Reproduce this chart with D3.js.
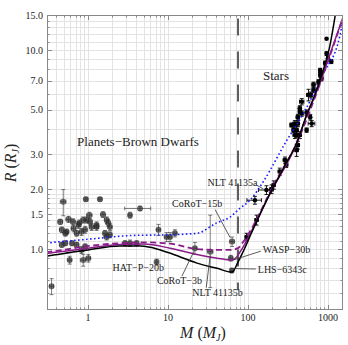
<!DOCTYPE html>
<html>
<head>
<meta charset="utf-8">
<script src="https://cdn.jsdelivr.net/npm/d3@7/dist/d3.min.js"></script>
<style>
  body { margin: 0; background: #fff; }
  text { font-family: "Liberation Serif", "Times New Roman", serif; fill: #222; }
</style>
</head>
<body>
<svg id="chart" width="348" height="345"></svg>
<script>
// axis ticks
var xMajor = [1, 10, 100, 1000];
var xMinor = [0.4, 0.5, 0.6, 0.7, 0.8, 0.9, 2, 3, 4, 5, 6, 7, 8, 9,
  20, 30, 40, 50, 60, 70, 80, 90, 200, 300, 400, 500, 600, 700, 800, 900];
var yMajor = [1.0, 1.5, 2.0, 3.0, 5.0, 7.0, 10.0, 15.0];
var yMinor = [0.5, 0.6, 0.7, 0.8, 0.9, 1.1, 1.2, 1.3, 1.4, 1.6, 1.7, 1.8, 1.9,
  2.5, 4, 6, 8, 9, 11, 12, 13, 14];

// models: [mass (M_J), radius (R_J)]
var modelBlack = [[0.3, 0.92], [0.37, 0.933], [0.6, 0.96], [1, 0.99], [2.5, 1.035], [4.5, 1.035],
  [6, 1.02], [10, 0.96], [23, 0.85], [41, 0.8], [63, 0.766], [75, 0.86], [90, 1.0], [110, 1.2],
  [188, 1.9], [300, 2.7], [405, 3.4], [540, 4.7], [700, 6.1], [870, 7.9], [1050, 10.4], [1240, 15.2]];
var modelPurple = [[0.3, 0.95], [0.37, 0.96], [1, 1.01], [2.5, 1.055], [5, 1.06], [10.6, 1.01],
  [23, 0.94], [41, 0.9], [62, 0.88], [72, 0.91], [80, 0.97], [90, 1.05], [105, 1.18], [188, 1.9],
  [405, 3.4], [540, 4.7], [700, 6.0], [870, 7.6], [1200, 11.0], [1560, 14.8]];
var modelPurpleDash = [[0.3, 0.965], [0.37, 0.975], [1, 1.035], [2.5, 1.07], [5, 1.08], [10.6, 1.065],
  [23, 1.0], [41, 0.99], [60, 0.99], [75, 1.01], [86, 1.08], [105, 1.22], [150, 1.6], [188, 1.93],
  [405, 3.4], [870, 7.5], [1560, 14.8]];
var modelBlue = [[0.3, 1.07], [0.37, 1.08], [1, 1.12], [2.5, 1.16], [3.5, 1.17], [6, 1.175],
  [10.6, 1.18], [23, 1.2], [40, 1.35], [60, 1.45], [79, 1.6], [106, 1.76], [155, 2.18], [303, 3.5],
  [493, 4.8], [870, 7.6], [1400, 11.7], [1560, 14.5]];

// hydrogen burning limit
var hLimit = 75;

// planets & brown dwarfs: [M, R, dM, dR up, dR down]
var planets = [
  [0.49, 1.73, 0.04, 0.26], [0.94, 1.78, 0.05, 0.04], [1.41, 1.78, 0.08, 0.04], [1.04, 1.48, 0.08, 0.05],
  [1.54, 1.49, 0.1, 0.05], [0.57, 1.41, 0.04, 0.05], [0.45, 1.37, 0.03, 0.04], [0.87, 1.40, 0.05, 0.05],
  [0.78, 1.35, 0.04, 0.05], [1.06, 1.37, 0.06, 0.05], [1.28, 1.29, 0.07, 0.05], [1.71, 1.40, 0.1, 0.05],
  [1.88, 1.29, 0.1, 0.05], [0.47, 1.25, 0.03, 0.04], [0.66, 1.27, 0.04, 0.05], [0.54, 1.22, 0.03, 0.04],
  [0.52, 1.20, 0.03, 0.04], [0.65, 1.37, 0.04, 0.05], [0.76, 1.32, 0.04, 0.05], [0.83, 1.22, 0.05, 0.05],
  [0.72, 1.20, 0.04, 0.04], [0.96, 1.40, 0.05, 0.05], [1.11, 1.29, 0.06, 0.05], [0.92, 1.25, 0.05, 0.05],
  [1.28, 1.32, 0.07, 0.05], [1.79, 1.35, 0.1, 0.05], [1.88, 1.18, 0.1, 0.04], [1.63, 1.20, 0.09, 0.04],
  [0.52, 1.07, 0.03, 0.03], [0.63, 1.07, 0.03, 0.03], [0.72, 1.05, 0.04, 0.03], [0.92, 1.03, 0.05, 0.03],
  [0.83, 0.99, 0.05, 0.04], [0.59, 0.88, 0.03, 0.04], [0.87, 0.88, 0.07, 0.06], [1.01, 0.90, 0.06, 0.04],
  [3.35, 1.48, 0.15, 0.05], [3.35, 1.07, 0.15, 0.04], [0.35, 0.65, 0.02, 0.06], [0.47, 1.05, 0.03, 0.03],
  [1.71, 1.15, 0.1, 0.04], [4.47, 1.60, 1.6, 0.04], [2.9, 1.07, 0.15, 0.03], [4.06, 1.07, 0.2, 0.03],
  [7.6, 1.25, 0.4, 0.08], [9.6, 1.15, 0.5, 0.06], [10.6, 1.15, 0.5, 0.06], [12.2, 1.20, 0.6, 0.05],
  [7.2, 0.86, 0.3, 0.03], [21.7, 1.01, 1.0, 0.07], [33.7, 0.97, 2.8, 0.51, 0.33], [63.3, 1.09, 4.1, 0.06],
  [61, 0.90, 3, 0.03], [62.7, 0.78, 2.4, 0.02]
];

// low-mass stars: [M, R, dM, dR]
var stars = [
  [96, 1.15, 4, 0.05], [122, 1.76, 25, 0.08], [128, 1.40, 6, 0.08], [170, 1.98, 35, 0.1],
  [197, 2.0, 10, 0.1], [210, 2.1, 10, 0.1], [250, 2.45, 12, 0.1], [290, 2.8, 15, 0.1],
  [300, 2.65, 15, 0.08], [405, 3.14, 20, 0.22], [405, 3.74, 15, 0.1], [370, 3.96, 15, 0.1],
  [350, 4.2, 15, 0.1], [380, 4.2, 15, 0.1], [445, 4.9, 20, 0.1], [625, 4.27, 60, 0.15],
  [540, 3.96, 20, 0.1], [960, 11.4, 0, 0], [960, 9.6, 30, 0.2], [1000, 9.1, 30, 0.2],
  [920, 8.6, 30, 0.2], [1100, 8.75, 40, 0.2], [800, 7.9, 30, 0.2], [800, 7.5, 30, 0.2],
  [830, 7.2, 30, 0.2], [760, 6.9, 30, 0.2], [660, 6.7, 30, 0.2], [660, 6.3, 30, 0.2],
  [570, 5.95, 30, 0.4], [610, 5.95, 30, 0.2], [470, 5.5, 30, 0.2], [445, 5.1, 20, 0.15],
  [470, 4.8, 20, 0.15], [540, 4.85, 20, 0.15], [600, 4.6, 20, 0.15], [420, 4.6, 20, 0.15],
  [420, 4.27, 20, 0.15], [385, 4.27, 20, 0.15], [405, 3.96, 20, 0.15], [445, 3.74, 20, 0.15],
  [385, 3.74, 20, 0.15], [420, 3.33, 20, 0.15]
];

// named objects: [label, M, R]
var named = [
  ['NLT 41135a', 170, 1.98], ['CoRoT\u221215b', 63.3, 1.09], ['HAT\u2212P\u221220b', 7.2, 0.86],
  ['CoRoT\u22123b', 21.7, 1.01], ['NLT 41135b', 33.7, 0.97], ['WASP\u221230b', 61, 0.90],
  ['LHS\u22126343c', 62.7, 0.78]
];
// label placement relative to the object (px): text dx,dy, leader from (lx0,ly0) to (lx1,ly1)
var labelLayout = {
  'NLT 41135a': { dx: -59, dy: -4, lead: [-10, -5, -3, -1] },
  'CoRoT\u221215b': { dx: -60, dy: -35, lead: [-17, -32, -2, -4] },
  'HAT\u2212P\u221220b': { dx: -44, dy: 9, lead: null },
  'CoRoT\u22123b': { dx: -38, dy: 36, lead: [-13, 28, -1, 3] },
  'NLT 41135b': { dx: -18, dy: 44, lead: [-4, 36, 0, 4] },
  'WASP\u221230b': { dx: 32, dy: -5, lead: [30, -7, 2, 2] },
  'LHS\u22126343c': { dx: 26, dy: 2.5, lead: [24, -1.5, 1, -2] }
};

var svg = d3.select('#chart');
var margin = { left: 47, right: 5, top: 15, bottom: 35 };
var W = 348, H = 345;

var x = d3.scaleLog().domain([0.307, 1540]).range([margin.left, W - margin.right]);
var y = d3.scaleLog().domain([0.494, 15]).range([H - margin.bottom, margin.top]);
var x0 = x.range()[0], x1 = x.range()[1], y0 = y.range()[0], y1 = y.range()[1];

svg.append('defs').append('clipPath').attr('id', 'clip')
  .append('rect').attr('x', x0).attr('y', y1).attr('width', x1 - x0).attr('height', y0 - y1);

// grid
var grid = svg.append('g').attr('stroke', '#e3e3e3').attr('stroke-width', 1);
grid.selectAll('.gx').data(xMajor.concat(xMinor)).enter().append('line')
  .attr('x1', function (d) { return Math.round(x(d)) + 0.5; })
  .attr('x2', function (d) { return Math.round(x(d)) + 0.5; })
  .attr('y1', y1).attr('y2', y0);
grid.selectAll('.gy').data(yMajor.concat(yMinor)).enter().append('line')
  .attr('y1', function (d) { return Math.round(y(d)) + 0.5; })
  .attr('y2', function (d) { return Math.round(y(d)) + 0.5; })
  .attr('x1', x0).attr('x2', x1);

var plot = svg.append('g').attr('clip-path', 'url(#clip)');

// hydrogen burning limit
plot.append('line')
  .attr('x1', x(hLimit)).attr('x2', x(hLimit))
  .attr('y1', y(14.4)).attr('y2', y(0.62))
  .attr('stroke', '#444').attr('stroke-width', 1.7)
  .attr('stroke-dasharray', '17,16');

// error bars + markers
function drawPoints(data, color, opacity, r) {
  var g = plot.append('g').attr('stroke', color).attr('stroke-opacity', opacity)
    .attr('stroke-width', 0.9).attr('fill', color).attr('fill-opacity', opacity);
  data.forEach(function (d) {
    var px = x(d[0]), py = y(d[1]);
    var up = d[3], dn = d.length > 4 ? d[4] : d[3];
    if (up > 0) {
      var ya = y(d[1] + up), yb = y(Math.max(d[1] - dn, 0.3));
      g.append('line').attr('x1', px).attr('x2', px).attr('y1', ya).attr('y2', yb);
      g.append('line').attr('x1', px - 2).attr('x2', px + 2).attr('y1', ya).attr('y2', ya);
      g.append('line').attr('x1', px - 2).attr('x2', px + 2).attr('y1', yb).attr('y2', yb);
    }
    if (d[2] > 0) {
      var xa = x(d[0] - d[2]), xb = x(d[0] + d[2]);
      g.append('line').attr('y1', py).attr('y2', py).attr('x1', xa).attr('x2', xb);
      g.append('line').attr('y1', py - 2).attr('y2', py + 2).attr('x1', xa).attr('x2', xa);
      g.append('line').attr('y1', py - 2).attr('y2', py + 2).attr('x1', xb).attr('x2', xb);
    }
    g.append('circle').attr('cx', px).attr('cy', py).attr('r', r).attr('stroke', 'none');
  });
}
drawPoints(planets, '#2e2e2e', 0.68, 3);
drawPoints(stars, '#000', 1, 2.3);

// models
var line = d3.line()
  .x(function (d) { return x(d[0]); })
  .y(function (d) { return y(d[1]); })
  .curve(d3.curveMonotoneX);

plot.append('path').datum(modelBlue).attr('d', line).attr('fill', 'none')
  .attr('stroke', '#1a1aff').attr('stroke-width', 1.6).attr('stroke-dasharray', '1.6,2.4');
plot.append('path').datum(modelPurpleDash).attr('d', line).attr('fill', 'none')
  .attr('stroke', '#8a1c8a').attr('stroke-width', 1.8).attr('stroke-dasharray', '6,3.5');
plot.append('path').datum(modelPurple).attr('d', line).attr('fill', 'none')
  .attr('stroke', '#8a1c8a').attr('stroke-width', 1.5);
plot.append('path').datum(modelBlack).attr('d', line).attr('fill', 'none')
  .attr('stroke', '#000').attr('stroke-width', 1.5);

// annotations
var ann = svg.append('g');
named.forEach(function (d) {
  var px = x(d[1]), py = y(d[2]);
  var lay = labelLayout[d[0]];
  ann.append('text').attr('x', px + lay.dx).attr('y', py + lay.dy)
    .attr('font-size', 10).text(d[0]);
  if (lay.lead) {
    ann.append('line')
      .attr('x1', px + lay.lead[0]).attr('y1', py + lay.lead[1])
      .attr('x2', px + lay.lead[2]).attr('y2', py + lay.lead[3])
      .attr('stroke', '#333').attr('stroke-width', 0.8);
  }
});

svg.append('text').attr('x', x(0.73)).attr('y', y(3.3)).attr('font-size', 13)
  .text('Planets\u2212Brown Dwarfs');
svg.append('text').attr('x', x(154)).attr('y', y(7.05)).attr('font-size', 13)
  .text('Stars');

// frame
var frame = svg.append('g').attr('stroke', '#888').attr('stroke-width', 1).attr('fill', 'none');
frame.append('rect').attr('x', x0 + 0.5).attr('y', y1 + 0.5)
  .attr('width', x1 - x0 - 1).attr('height', y0 - y1 - 1);

function tickLen(major) { return major ? 5 : 2.5; }
xMajor.map(function (d) { return [d, true]; }).concat(xMinor.map(function (d) { return [d, false]; }))
  .forEach(function (t) {
    var px = Math.round(x(t[0])) + 0.5, L = tickLen(t[1]);
    frame.append('line').attr('x1', px).attr('x2', px).attr('y1', y0).attr('y2', y0 - L);
    frame.append('line').attr('x1', px).attr('x2', px).attr('y1', y1).attr('y2', y1 + L);
  });
yMajor.map(function (d) { return [d, true]; }).concat(yMinor.map(function (d) { return [d, false]; }))
  .forEach(function (t) {
    var py = Math.round(y(t[0])) + 0.5, L = tickLen(t[1]);
    frame.append('line').attr('y1', py).attr('y2', py).attr('x1', x0).attr('x2', x0 + L);
    frame.append('line').attr('y1', py).attr('y2', py).attr('x1', x1).attr('x2', x1 - L);
  });

// tick labels
svg.selectAll('.xl').data(xMajor).enter().append('text')
  .attr('x', function (d) { return x(d); }).attr('y', y0 + 11)
  .attr('text-anchor', 'middle').attr('font-size', 10).text(function (d) { return d; });
svg.selectAll('.yl').data(yMajor).enter().append('text')
  .attr('x', x0 - 4).attr('y', function (d) { return y(d); }).attr('dy', '0.35em')
  .attr('text-anchor', 'end').attr('font-size', 10).text(d3.format('.1f'));

// axis titles
var xt = svg.append('text').attr('x', 203).attr('y', 338).attr('text-anchor', 'middle')
  .attr('font-size', 16);
xt.append('tspan').attr('font-style', 'italic').text('M');
xt.append('tspan').text(' (');
xt.append('tspan').attr('font-style', 'italic').text('M');
xt.append('tspan').attr('font-style', 'italic').attr('font-size', 10).attr('dy', 3).text('J');
xt.append('tspan').attr('dy', -3).text(')');

var yt = svg.append('text').attr('transform', 'translate(16,163) rotate(-90)')
  .attr('text-anchor', 'middle').attr('font-size', 16);
yt.append('tspan').attr('font-style', 'italic').text('R');
yt.append('tspan').text(' (');
yt.append('tspan').attr('font-style', 'italic').text('R');
yt.append('tspan').attr('font-style', 'italic').attr('font-size', 10).attr('dy', 3).text('J');
yt.append('tspan').attr('dy', -3).text(')');
</script>
</body>
</html>
